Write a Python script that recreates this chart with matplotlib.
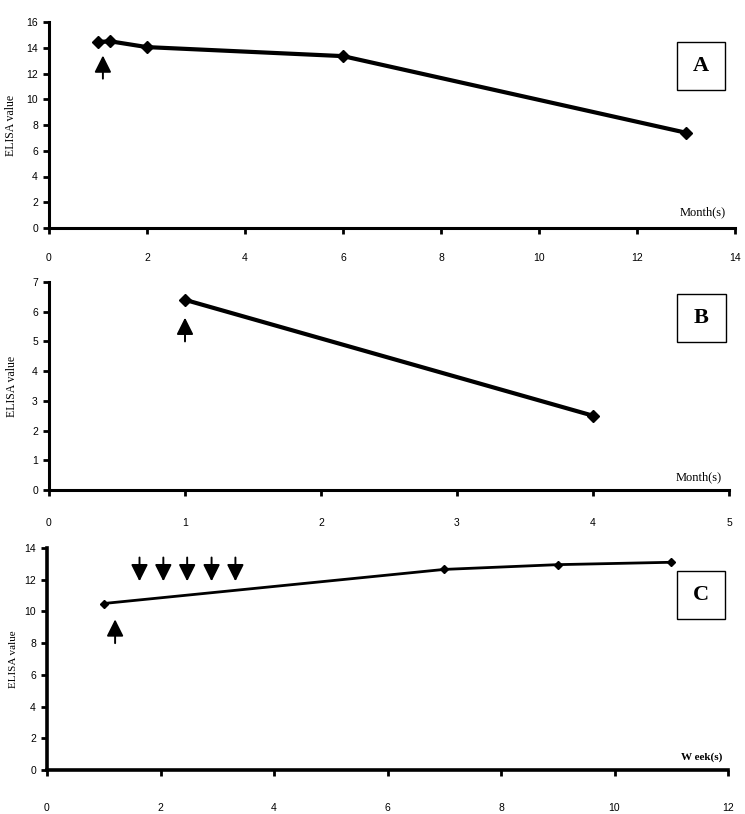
#
# ELISA values over time, three panels (A, B, C)
#

import matplotlib
matplotlib.use("Agg")
import matplotlib.pyplot as plt
from matplotlib.patches import Rectangle

# panel A: months
monthsA = [1, 1.25, 2, 6, 13]
elisaA = [14.45, 14.5, 14.05, 13.35, 7.4]
arrowUpA = [(1.1, 13.4, 11.6)]  # x, tip, tail

# panel B: months
monthsB = [1, 4]
elisaB = [6.4, 2.5]
arrowUpB = [(1.0, 5.8, 5.0)]

# panel C: weeks
weeksC = [1, 7, 9, 11]
elisaC = [10.5, 12.65, 12.95, 13.1]
arrowUpC = [(1.2, 9.5, 8.0)]
arrowDownC = [(1.63, 11.9, 13.4), (2.05, 11.9, 13.4), (2.47, 11.9, 13.4),
              (2.9, 11.9, 13.4), (3.32, 11.9, 13.4)]

W = 745
H = 814
SERIF = "Liberation Serif"
SANS = "Liberation Sans"


def fig_rect(x0, y0, x1, y1):
  # pixel box (top-left origin) -> figure fraction
  return [x0 / W, 1 - y1 / H, (x1 - x0) / W, (y1 - y0) / H]


def draw_arrows(ax, arrows):
  for a in arrows:
    ax.annotate("", xy=(a[0], a[1]), xytext=(a[0], a[2]),
                arrowprops=dict(arrowstyle="-|>,head_length=0.6,head_width=0.3",
                                color="black", lw=1.4, mutation_scale=17,
                                shrinkA=0, shrinkB=0))


def setup_axes(ax, xmax, xstep, ymax, ystep, xpad, spine_w, letter, box_px):
  for s in ["top", "right"]:
    ax.spines[s].set_visible(False)
  ax.spines["left"].set_linewidth(spine_w)
  ax.spines["bottom"].set_linewidth(spine_w)
  ax.set_xlim(0, xmax)
  ax.set_ylim(0, ymax)
  ax.set_xticks(range(0, xmax + 1, xstep))
  ax.set_yticks(range(0, ymax + 1, ystep))
  ax.tick_params(axis="x", direction="out", length=4, width=2, pad=xpad,
                 labelsize=7.5)
  ax.tick_params(axis="y", direction="out", length=4, width=2, pad=4,
                 labelsize=7.5)
  for lab in ax.get_xticklabels() + ax.get_yticklabels():
    lab.set_family(SANS)
  ax.set_ylabel("ELISA value", family=SERIF, fontsize=8.5)
  ax.yaxis.set_label_coords(-0.046, 0.5)
  # letter box
  x0, y0, x1, y1 = box_px
  fig.add_artist(Rectangle((x0 / W, 1 - y1 / H), (x1 - x0) / W, (y1 - y0) / H,
                           transform=fig.transFigure, fill=False,
                           edgecolor="black", lw=1.0))
  fig.text((x0 + x1) / 2 / W, 1 - (y0 + y1) / 2 / H, letter, ha="center",
           va="center", family=SERIF, fontsize=16, fontweight="bold")


fig = plt.figure(figsize=(W / 100, H / 100), dpi=100)

#
# panel A
#
axA = fig.add_axes(fig_rect(49, 22, 735, 228))
axA.plot(monthsA, elisaA, color="black", lw=3, marker="D", ms=6.5,
         clip_on=False, zorder=3)
setup_axes(axA, 14, 2, 16, 2, 14, 2.2, "A", (677, 42, 725, 90))
draw_arrows(axA, arrowUpA)
fig.text(726 / W, 1 - 212 / H, "Month(s)", ha="right", va="center",
         family=SERIF, fontsize=9)

#
# panel B
#
axB = fig.add_axes(fig_rect(49, 282, 729, 490))
axB.plot(monthsB, elisaB, color="black", lw=3, marker="D", ms=6.5,
         clip_on=False, zorder=3)
setup_axes(axB, 5, 1, 7, 1, 16, 2.2, "B", (677, 294, 726, 342))
draw_arrows(axB, arrowUpB)
fig.text(722 / W, 1 - 477 / H, "Month(s)", ha="right", va="center",
         family=SERIF, fontsize=9)

#
# panel C
#
axC = fig.add_axes(fig_rect(47, 548, 728, 770))
axC.plot(weeksC, elisaC, color="black", lw=2, marker="D", ms=4.5,
         clip_on=False, zorder=3)
setup_axes(axC, 12, 2, 14, 2, 20, 2.6, "C", (677, 571, 725, 619))
axC.set_ylabel("ELISA value", family=SERIF, fontsize=8)
axC.yaxis.set_label_coords(-0.043, 0.5)
draw_arrows(axC, arrowUpC + arrowDownC)
fig.text(722 / W, 1 - 757 / H, "W eek(s)", ha="right", va="center",
         family=SERIF, fontsize=8, fontweight="bold")

fig.savefig("out.png", dpi=100)
